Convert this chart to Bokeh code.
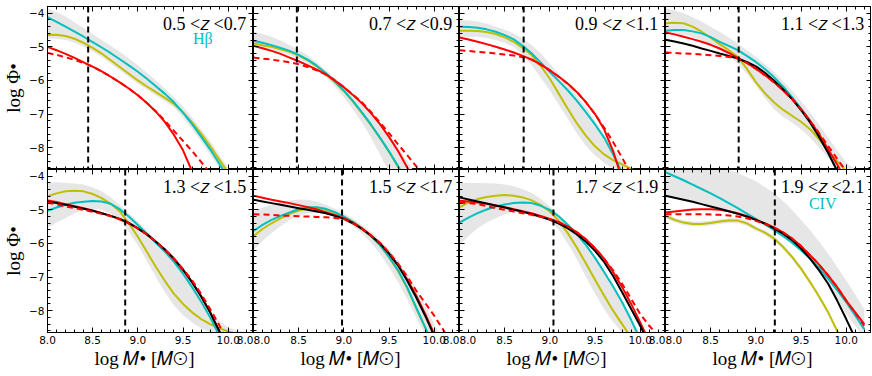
from bokeh.plotting import figure
from bokeh.layouts import column, row
from bokeh.models import LinearAxis, Label, FixedTicker, Range1d, Span, PrintfTickFormatter
from bokeh.embed import file_html
from bokeh.resources import INLINE

# ---------------- data ----------------
log_mbh = [8.0, 8.1, 8.2, 8.3, 8.4, 8.5, 8.6, 8.7, 8.8, 8.9, 9.0, 9.1, 9.2, 9.3,
           9.4, 9.5, 9.6, 9.7, 9.8, 9.9, 10.0, 10.1, 10.2]

z_bins = ["0.5 <𝑧 <0.7", "0.7 <𝑧 <0.9", "0.9 <𝑧 <1.1", "1.1 <𝑧 <1.3",
          "1.3 <𝑧 <1.5", "1.5 <𝑧 <1.7", "1.7 <𝑧 <1.9", "1.9 <𝑧 <2.1"]
mass_limit = [8.45, 8.48, 8.71, 8.81, 8.86, 8.98, 9.04, 9.21]

x_major = [8.0, 8.5, 9.0, 9.5, 10.0]
x_minor = [8.0, 8.1, 8.2, 8.3, 8.4, 8.5, 8.6, 8.7, 8.8, 8.9, 9.0, 9.1, 9.2, 9.3,
           9.4, 9.5, 9.6, 9.7, 9.8, 9.9, 10.0, 10.1, 10.2]
y_major = [-8, -7, -6, -5, -4]
y_minor = [-8.6, -8.4, -8.2, -8.0, -7.8, -7.6, -7.4, -7.2, -7.0, -6.8, -6.6, -6.4,
           -6.2, -6.0, -5.8, -5.6, -5.4, -5.2, -5.0, -4.8, -4.6, -4.4, -4.2, -4.0, -3.8]

# panel 1: 0.5<z<0.7
red_1     = [-5.0, -5.1, -5.21, -5.33, -5.46, -5.59, -5.73, -5.89, -6.06, -6.24, -6.44, -6.67,
             -6.93, -7.24, -7.62, -8.08, -8.7, -9.4, -10.2, -11.0, -11.8, -12.6, -13.4]
reddash_1 = [-5.18, -5.24, -5.31, -5.39, -5.48, -5.59, -5.73, -5.89, -6.06, -6.24, -6.44, -6.67,
             -6.92, -7.2, -7.5, -7.8, -8.1, -8.42, -8.76, -9.1, -9.45, -9.8, -10.15]
cyan_1    = [-4.12, -4.26, -4.4, -4.55, -4.7, -4.86, -5.02, -5.19, -5.37, -5.55, -5.74, -5.95,
             -6.17, -6.4, -6.65, -6.96, -7.3, -7.67, -8.05, -8.47, -8.9, -9.35, -9.8]
yellow_1  = [-4.65, -4.64, -4.68, -4.76, -4.88, -5.03, -5.2, -5.4, -5.6, -5.8, -6.0, -6.18,
             -6.35, -6.52, -6.7, -6.95, -7.25, -7.58, -7.95, -8.35, -8.75, -9.15, -9.6]
bandhi_1  = [-3.85, -3.97, -4.1, -4.27, -4.45, -4.62, -4.8, -4.97, -5.15, -5.35, -5.55, -5.77,
             -6.0, -6.25, -6.5, -6.78, -7.1, -7.45, -7.8, -8.2, -8.6, -9.0, -9.4]
bandlo_1  = [-4.75, -4.76, -4.8, -4.88, -5.0, -5.14, -5.3, -5.5, -5.7, -5.9, -6.1, -6.28,
             -6.45, -6.62, -6.8, -7.1, -7.45, -7.82, -8.2, -8.6, -9.0, -9.4, -9.8]

# panel 2: 0.7<z<0.9
red_2     = [-4.97, -5.04, -5.12, -5.21, -5.32, -5.43, -5.55, -5.68, -5.82, -6.0, -6.2, -6.43,
             -6.68, -6.97, -7.3, -7.68, -8.1, -8.58, -9.1, -9.65, -10.2, -10.75, -11.3]
reddash_2 = [-5.32, -5.35, -5.38, -5.42, -5.46, -5.52, -5.6, -5.7, -5.82, -6.0, -6.2, -6.42,
             -6.65, -6.94, -7.25, -7.57, -7.9, -8.22, -8.55, -8.87, -9.2, -9.55, -9.9]
cyan_2    = [-4.82, -4.88, -4.95, -5.03, -5.12, -5.24, -5.38, -5.56, -5.78, -6.03, -6.3, -6.61,
             -6.95, -7.31, -7.7, -8.11, -8.55, -9.02, -9.5, -10.0, -10.5, -11.0, -11.5]
yellow_2  = [-4.9, -4.95, -5.0, -5.07, -5.15, -5.26, -5.4, -5.58, -5.8, -6.05, -6.32, -6.63,
             -6.97, -7.33, -7.72, -8.13, -8.57, -9.03, -9.5, -10.0, -10.5, -11.0, -11.5]
bandhi_2  = [-4.55, -4.62, -4.7, -4.81, -4.95, -5.09, -5.25, -5.46, -5.7, -5.92, -6.15, -6.42,
             -6.7, -7.0, -7.3, -7.64, -8.0, -8.4, -8.8, -9.2, -9.6, -10.0, -10.4]
bandlo_2  = [-5.0, -5.05, -5.1, -5.17, -5.25, -5.36, -5.5, -5.68, -5.9, -6.18, -6.5, -6.86,
             -7.25, -7.7, -8.2, -8.73, -9.3, -9.85, -10.4, -10.95, -11.5, -12.0, -12.5]

# panel 3: 0.9<z<1.1
red_3     = [-4.72, -4.78, -4.85, -4.92, -5.0, -5.08, -5.17, -5.27, -5.38, -5.53, -5.7, -5.89,
             -6.1, -6.35, -6.65, -7.0, -7.45, -8.1, -8.95, -9.8, -10.6, -11.4, -12.2]
reddash_3 = [-5.1, -5.12, -5.15, -5.17, -5.2, -5.23, -5.26, -5.31, -5.38, -5.53, -5.7, -5.89,
             -6.1, -6.35, -6.65, -7.0, -7.4, -7.83, -8.3, -8.8, -9.3, -9.8, -10.3]
cyan_3    = [-4.4, -4.41, -4.43, -4.48, -4.55, -4.65, -4.78, -4.97, -5.2, -5.47, -5.75, -6.02,
             -6.3, -6.61, -6.95, -7.31, -7.7, -8.2, -8.75, -9.3, -9.9, -10.45, -11.0]
yellow_3  = [-4.52, -4.52, -4.53, -4.56, -4.62, -4.72, -4.85, -5.03, -5.25, -5.57, -5.95, -6.4,
             -6.85, -7.28, -7.65, -7.96, -8.2, -8.37, -8.5, -8.63, -8.8, -8.95, -9.1]
bandhi_3  = [-4.2, -4.22, -4.25, -4.31, -4.4, -4.49, -4.6, -4.76, -4.95, -5.2, -5.5, -5.8,
             -6.1, -6.45, -6.8, -7.2, -7.6, -8.0, -8.4, -8.62, -8.8, -9.0, -9.2]
bandlo_3  = [-4.7, -4.7, -4.7, -4.74, -4.8, -4.88, -5.0, -5.25, -5.55, -5.92, -6.3, -6.72,
             -7.15, -7.57, -7.95, -8.23, -8.45, -8.62, -8.75, -8.87, -9.0, -9.15, -9.3]

# panel 4: 1.1<z<1.3
red_4     = [-4.57, -4.63, -4.7, -4.77, -4.85, -4.94, -5.05, -5.18, -5.33, -5.48, -5.65, -5.84,
             -6.05, -6.29, -6.55, -6.86, -7.2, -7.6, -8.05, -8.5, -8.98, -9.5, -10.0]
reddash_4 = [-5.17, -5.18, -5.2, -5.21, -5.23, -5.25, -5.27, -5.3, -5.34, -5.48, -5.65, -5.84,
             -6.05, -6.29, -6.55, -6.86, -7.2, -7.57, -7.95, -8.33, -8.7, -9.1, -9.5]
cyan_4    = [-4.52, -4.5, -4.5, -4.54, -4.6, -4.71, -4.85, -4.97, -5.1, -5.27, -5.45, -5.66,
             -5.9, -6.18, -6.5, -6.84, -7.2, -7.65, -8.15, -8.67, -9.2, -9.75, -10.3]
yellow_4  = [-4.3, -4.28, -4.3, -4.4, -4.55, -4.73, -4.92, -5.1, -5.3, -5.65, -6.05, -6.38,
             -6.65, -6.87, -7.05, -7.23, -7.45, -7.75, -8.1, -8.4, -8.7, -9.0, -9.3]
black_4   = [-4.79, -4.84, -4.9, -4.97, -5.05, -5.12, -5.2, -5.27, -5.35, -5.45, -5.58, -5.77,
             -6.0, -6.26, -6.55, -6.88, -7.25, -7.68, -8.15, -8.7, -9.3, -9.9, -10.5]
bandhi_4  = [-3.85, -3.92, -4.0, -4.12, -4.25, -4.4, -4.55, -4.72, -4.9, -5.1, -5.3, -5.52,
             -5.75, -6.02, -6.3, -6.62, -6.95, -7.32, -7.7, -8.08, -8.45, -8.65, -8.8]
bandlo_4  = [-4.65, -4.64, -4.65, -4.71, -4.8, -4.94, -5.1, -5.28, -5.5, -5.8, -6.15, -6.52,
             -6.85, -7.08, -7.25, -7.45, -7.7, -8.0, -8.3, -8.6, -8.9, -9.1, -9.3]

# panel 5: 1.3<z<1.5
red_5     = [-4.72, -4.77, -4.83, -4.89, -4.95, -5.02, -5.1, -5.18, -5.28, -5.4, -5.55, -5.73,
             -5.95, -6.19, -6.47, -6.79, -7.15, -7.57, -8.05, -8.6, -9.2, -9.8, -10.4]
reddash_5 = [-4.78, -4.84, -4.9, -4.95, -5.0, -5.06, -5.12, -5.19, -5.28, -5.4, -5.55, -5.73,
             -5.95, -6.19, -6.45, -6.76, -7.1, -7.5, -7.95, -8.43, -8.95, -9.47, -10.0]
cyan_5    = [-5.03, -4.93, -4.85, -4.79, -4.76, -4.74, -4.75, -4.82, -4.98, -5.2, -5.45, -5.71,
             -5.98, -6.25, -6.55, -6.9, -7.3, -7.73, -8.2, -8.73, -9.3, -9.85, -10.4]
yellow_5  = [-4.6, -4.51, -4.45, -4.43, -4.45, -4.53, -4.65, -4.82, -5.05, -5.4, -5.8, -6.25,
             -6.7, -7.12, -7.5, -7.8, -8.05, -8.25, -8.4, -8.52, -8.62, -8.7, -8.75]
black_5   = [-4.75, -4.8, -4.85, -4.91, -4.97, -5.03, -5.1, -5.18, -5.27, -5.39, -5.55, -5.73,
             -5.95, -6.18, -6.45, -6.78, -7.15, -7.57, -8.05, -8.6, -9.2, -9.8, -10.4]
bandhi_5  = [-4.2, -4.18, -4.2, -4.22, -4.25, -4.33, -4.45, -4.63, -4.85, -5.1, -5.35, -5.62,
             -5.9, -6.15, -6.4, -6.78, -7.2, -7.6, -8.0, -8.3, -8.5, -8.6, -8.65]
bandlo_5  = [-5.55, -5.38, -5.25, -5.1, -5.0, -4.97, -5.0, -5.12, -5.3, -5.65, -6.05, -6.52,
             -7.0, -7.45, -7.85, -8.13, -8.35, -8.52, -8.65, -8.73, -8.8, -8.85, -8.9]

# panel 6: 1.5<z<1.7
red_6     = [-4.58, -4.64, -4.7, -4.75, -4.8, -4.86, -4.92, -4.99, -5.07, -5.15, -5.25, -5.38,
             -5.55, -5.76, -6.0, -6.3, -6.65, -7.07, -7.55, -8.1, -8.7, -9.35, -10.0]
reddash_6 = [-5.13, -5.14, -5.15, -5.17, -5.18, -5.19, -5.2, -5.21, -5.22, -5.24, -5.27, -5.4,
             -5.57, -5.76, -5.98, -6.27, -6.6, -6.98, -7.4, -7.77, -8.15, -8.57, -9.0]
cyan_6    = [-5.63, -5.45, -5.3, -5.18, -5.08, -4.98, -4.92, -4.92, -4.97, -5.07, -5.2, -5.36,
             -5.55, -5.78, -6.05, -6.4, -6.8, -7.3, -7.9, -8.5, -9.1, -9.75, -10.4]
yellow_6  = [-5.78, -5.57, -5.4, -5.25, -5.12, -5.02, -4.96, -4.95, -5.0, -5.08, -5.2, -5.36,
             -5.55, -5.78, -6.05, -6.41, -6.82, -7.33, -7.92, -8.5, -9.1, -9.75, -10.4]
black_6   = [-4.7, -4.75, -4.8, -4.85, -4.9, -4.95, -5.0, -5.05, -5.1, -5.18, -5.27, -5.4,
             -5.57, -5.77, -6.0, -6.3, -6.65, -7.1, -7.6, -8.15, -8.75, -9.37, -10.0]
bandhi_6  = [-5.05, -4.94, -4.85, -4.77, -4.72, -4.69, -4.7, -4.75, -4.85, -4.97, -5.1, -5.26,
             -5.45, -5.66, -5.9, -6.18, -6.5, -6.9, -7.35, -7.85, -8.4, -8.9, -9.4]
bandlo_6  = [-6.2, -5.93, -5.7, -5.48, -5.3, -5.18, -5.1, -5.08, -5.1, -5.18, -5.3, -5.48,
             -5.7, -5.98, -6.3, -6.7, -7.15, -7.65, -8.2, -8.7, -9.2, -9.7, -10.2]

# panel 7: 1.7<z<1.9
red_7     = [-4.73, -4.75, -4.78, -4.82, -4.87, -4.92, -4.98, -5.04, -5.1, -5.18, -5.27, -5.37,
             -5.5, -5.67, -5.88, -6.14, -6.45, -6.85, -7.3, -7.8, -8.35, -8.92, -9.5]
reddash_7 = [-4.78, -4.8, -4.83, -4.89, -4.95, -5.0, -5.05, -5.1, -5.15, -5.21, -5.28, -5.37,
             -5.5, -5.67, -5.88, -6.14, -6.45, -6.8, -7.2, -7.65, -8.1, -8.45, -8.75]
cyan_7    = [-5.38, -5.23, -5.1, -4.99, -4.9, -4.84, -4.8, -4.78, -4.8, -4.88, -5.0, -5.2,
             -5.45, -5.73, -6.05, -6.43, -6.85, -7.28, -7.75, -8.28, -8.85, -9.42, -10.0]
yellow_7  = [-4.93, -4.78, -4.68, -4.62, -4.58, -4.56, -4.58, -4.63, -4.72, -4.86, -5.05, -5.33,
             -5.7, -6.13, -6.6, -7.08, -7.55, -8.0, -8.4, -8.8, -9.2, -9.6, -10.0]
black_7   = [-4.63, -4.69, -4.75, -4.81, -4.87, -4.93, -5.0, -5.06, -5.13, -5.21, -5.3, -5.41,
             -5.55, -5.73, -5.95, -6.22, -6.55, -6.97, -7.45, -7.95, -8.45, -9.0, -9.6]
bandhi_7  = [-4.2, -4.2, -4.2, -4.21, -4.22, -4.25, -4.3, -4.38, -4.5, -4.68, -4.9, -5.14,
             -5.4, -5.68, -6.0, -6.38, -6.8, -7.28, -7.8, -8.28, -8.7, -9.1, -9.5]
bandlo_7  = [-6.05, -5.78, -5.55, -5.38, -5.25, -5.13, -5.05, -5.03, -5.05, -5.13, -5.3, -5.6,
             -6.0, -6.48, -7.0, -7.5, -7.95, -8.33, -8.65, -8.95, -9.3, -9.65, -10.0]

# panel 8: 1.9<z<2.1
red_8     = [-5.08, -5.05, -5.02, -4.99, -4.98, -4.98, -5.0, -5.04, -5.1, -5.19, -5.3, -5.4,
             -5.52, -5.67, -5.85, -6.08, -6.35, -6.63, -6.95, -7.3, -7.7, -8.05, -8.4]
reddash_8 = [-5.13, -5.13, -5.13, -5.13, -5.13, -5.14, -5.15, -5.17, -5.2, -5.25, -5.33, -5.42,
             -5.52, -5.67, -5.85, -6.08, -6.35, -6.63, -6.95, -7.3, -7.7, -8.07, -8.45]
cyan_8    = [-3.88, -4.0, -4.12, -4.25, -4.38, -4.51, -4.65, -4.8, -4.95, -5.11, -5.27, -5.43,
             -5.6, -5.78, -5.98, -6.2, -6.45, -6.73, -7.05, -7.39, -7.75, -8.14, -8.55]
yellow_8  = [-5.18, -5.3, -5.38, -5.42, -5.42, -5.39, -5.35, -5.32, -5.32, -5.4, -5.55, -5.68,
             -5.85, -6.1, -6.4, -6.75, -7.15, -7.58, -8.05, -8.6, -9.2, -9.8, -10.4]
black_8   = [-4.58, -4.64, -4.7, -4.76, -4.83, -4.9, -4.97, -5.04, -5.12, -5.2, -5.3, -5.41,
             -5.55, -5.71, -5.9, -6.15, -6.45, -6.8, -7.2, -7.7, -8.25, -8.82, -9.4]
bandhi_8  = [-3.6, -3.6, -3.6, -3.62, -3.65, -3.7, -3.75, -3.82, -3.9, -4.02, -4.15, -4.32,
             -4.5, -4.74, -5.0, -5.3, -5.6, -5.95, -6.3, -6.7, -7.1, -7.52, -7.95]
bandlo_8  = [-4.6, -4.65, -4.7, -4.75, -4.8, -4.87, -4.95, -5.02, -5.1, -5.2, -5.3, -5.42,
             -5.55, -5.73, -5.95, -6.2, -6.5, -6.85, -7.25, -7.65, -8.1, -8.45, -8.8]
band2hi_8 = [-5.11, -5.23, -5.31, -5.35, -5.35, -5.32, -5.28, -5.25, -5.25, -5.33, -5.48, -5.61,
             -5.78, -6.03, -6.33, -6.68, -7.08, -7.51, -7.98, -8.53, -9.13, -9.73, -10.33]
band2lo_8 = [-5.25, -5.37, -5.45, -5.49, -5.49, -5.46, -5.42, -5.39, -5.39, -5.47, -5.62, -5.75,
             -5.92, -6.17, -6.47, -6.82, -7.22, -7.65, -8.12, -8.67, -9.27, -9.87, -10.47]

panels = [
    dict(red=red_1, rdash=reddash_1, cyan=cyan_1, yellow=yellow_1, black=None, bands=[(bandlo_1, bandhi_1)]),
    dict(red=red_2, rdash=reddash_2, cyan=cyan_2, yellow=yellow_2, black=None, bands=[(bandlo_2, bandhi_2)]),
    dict(red=red_3, rdash=reddash_3, cyan=cyan_3, yellow=yellow_3, black=None, bands=[(bandlo_3, bandhi_3)]),
    dict(red=red_4, rdash=reddash_4, cyan=cyan_4, yellow=yellow_4, black=black_4, bands=[(bandlo_4, bandhi_4)]),
    dict(red=red_5, rdash=reddash_5, cyan=cyan_5, yellow=yellow_5, black=black_5, bands=[(bandlo_5, bandhi_5)]),
    dict(red=red_6, rdash=reddash_6, cyan=cyan_6, yellow=yellow_6, black=black_6, bands=[(bandlo_6, bandhi_6)]),
    dict(red=red_7, rdash=reddash_7, cyan=cyan_7, yellow=yellow_7, black=black_7, bands=[(bandlo_7, bandhi_7)]),
    dict(red=red_8, rdash=reddash_8, cyan=cyan_8, yellow=yellow_8, black=black_8,
         bands=[(bandlo_8, bandhi_8), (band2lo_8, band2hi_8)]),
]

for _i, _d in enumerate(panels):
    for _key in ("red", "rdash", "cyan", "yellow", "black"):
        if _d[_key] is not None and len(_d[_key]) != len(log_mbh):
            raise ValueError(f"panel {_i + 1} {_key}: {len(_d[_key])} values")
    for _lo, _hi in _d["bands"]:
        if len(_lo) != len(log_mbh) or len(_hi) != len(log_mbh):
            raise ValueError(f"panel {_i + 1} band length")

# ---------------- style ----------------
RED, CYAN, YELLOW, BLACK, GREY = "#ff0000", "#00bfbf", "#bfbf00", "#000000", "#e6e6e6"
SERIF = "Liberation Serif"
SANS = "DejaVu Sans"
X_END = 10.28
Y_LO, Y_HI = -8.65, -3.8
FRAME_W = [206, 206, 206, 206]
FRAME_H = [163, 163]
TOP = 6
XLABEL_ROW_H = 24
LEFT_BORDER = 41   # width taken by the y tick labels and y title of the first column


def make_axis(ticks, minor, show_labels, label=None, overrides=None):
    ax = LinearAxis(ticker=FixedTicker(ticks=ticks, minor_ticks=minor),
                    major_tick_in=5, major_tick_out=0, minor_tick_in=3, minor_tick_out=0,
                    axis_line_color="black", major_tick_line_color="black",
                    minor_tick_line_color="black")
    if show_labels:
        ax.major_label_text_font = SANS
        ax.major_label_text_font_size = "10.5px"
        ax.major_label_text_color = "black"
        ax.major_label_standoff = 3
    else:
        ax.major_label_text_font_size = "0px"
        ax.major_label_standoff = 0
        ax.major_label_text_color = None
    if overrides:
        ax.major_label_overrides = overrides
    if label:
        ax.axis_label = label
        ax.axis_label_text_font = SERIF
        ax.axis_label_text_font_size = "19px"
        ax.axis_label_text_font_style = "normal"
        ax.axis_label_text_color = "black"
        ax.axis_label_standoff = 2
    return ax


def base_figure(fw, fh, top=0, left=0):
    p = figure(frame_width=fw, frame_height=fh,
               x_range=Range1d(8.0, X_END), y_range=Range1d(Y_LO, Y_HI),
               x_axis_location=None, y_axis_location=None,
               toolbar_location=None, output_backend="svg",
               min_border_left=left, min_border_right=0, min_border_top=0, min_border_bottom=0,
               border_fill_color=None)
    p.margin = (top, 0, 0, 0)
    p.grid.visible = False
    return p


def build(k):
    r, c = divmod(k, 4)
    d = panels[k]
    p = base_figure(FRAME_W[c], FRAME_H[r], TOP if r == 0 else 0, LEFT_BORDER if c == 0 else 0)
    p.background_fill_color = "white"
    p.outline_line_color = "black"
    p.outline_line_width = 1

    for lo, hi in d["bands"]:
        p.varea(x=log_mbh, y1=lo, y2=hi, fill_color=GREY)

    p.line(log_mbh, d["yellow"], line_color=YELLOW, line_width=2)
    p.line(log_mbh, d["cyan"], line_color=CYAN, line_width=2)
    p.line(log_mbh, d["red"], line_color=RED, line_width=2)
    if d["black"] is not None:
        p.line(log_mbh, d["black"], line_color=BLACK, line_width=2)
    p.line(log_mbh, d["rdash"], line_color=RED, line_width=2, line_dash="6 4")

    p.add_layout(Span(location=mass_limit[k], dimension="height", line_color="black",
                      line_width=2, line_dash="6 4"))

    p.add_layout(Label(x=10.2, y=-4.32, text=z_bins[k], text_align="right",
                       text_baseline="middle", text_font=SERIF, text_font_size="18px",
                       text_color="black"))
    if k == 0:
        p.add_layout(Label(x=9.72, y=-4.75, text="Hβ", text_align="center",
                           text_baseline="middle", text_font=SERIF, text_font_size="16px",
                           text_color=CYAN))
    if k == 7:
        p.add_layout(Label(x=9.74, y=-4.8, text="CIV", text_align="center",
                           text_baseline="middle", text_font=SERIF, text_font_size="16px",
                           text_color=CYAN))

    p.add_layout(make_axis(y_major, y_minor, c == 0,
                           "log Φ•" if c == 0 else None), "left")
    p.add_layout(make_axis(y_major, y_minor, False), "right")
    p.add_layout(make_axis(x_major, x_minor, False), "above")
    # the "8.0" label shared by two neighbouring panels is drawn half by each canvas
    if r == 1 and c < 3:
        bx = make_axis(x_major + [X_END], x_minor, True, overrides={X_END: "8.0"})
    else:
        bx = make_axis(x_major, x_minor, r == 1)
    bx.formatter = PrintfTickFormatter(format="%.1f")
    p.add_layout(bx, "below")
    return p


def xlabel_cell(c):
    # a thin strip under a bottom panel, carrying the x-axis title
    q = base_figure(FRAME_W[c], XLABEL_ROW_H, 0, LEFT_BORDER if c == 0 else 0)
    q.background_fill_color = None
    q.outline_line_color = None
    q.add_layout(Label(x=(8.0 + X_END) / 2, y=(Y_LO + Y_HI) / 2, text="log 𝑀• [𝑀⊙]",
                       text_align="center", text_baseline="middle", text_font=SERIF,
                       text_font_size="19px", text_color="black"))
    return q


figs = [build(k) for k in range(8)]
labels = [xlabel_cell(c) for c in range(4)]
layout = column(row(*figs[:4]), row(*figs[4:]), row(*labels))

open("out.html", "w").write(file_html(layout, INLINE))
